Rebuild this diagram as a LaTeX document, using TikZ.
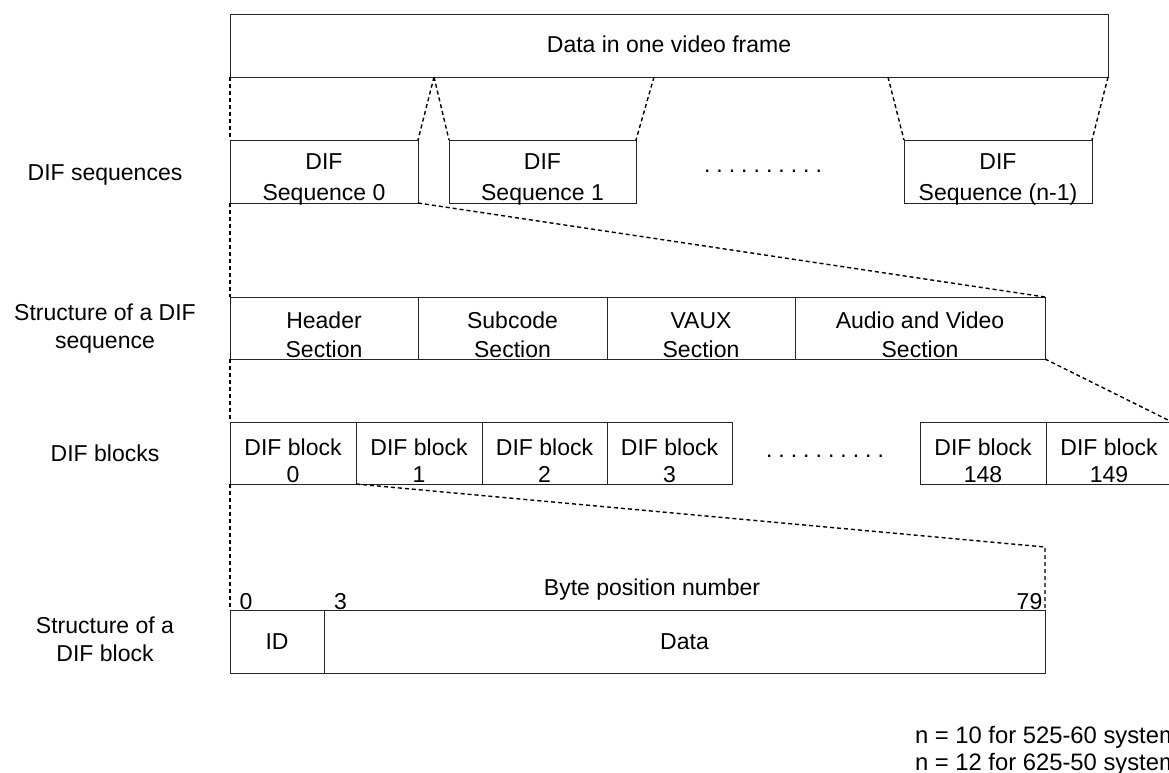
\documentclass[tikz,border=0pt]{standalone}
\usepackage{fontspec}
\setmainfont{Liberation Sans}
\newcommand{\dotrow}{.\kern6pt.\kern6pt.\kern6pt.\kern6pt.\kern6pt.\kern6pt.\kern6pt.\kern6pt.\kern6pt.}
\begin{document}
\begin{tikzpicture}[x=1pt,y=-1pt,
  box/.style={draw=black!85, line width=0.9pt, inner sep=0pt, outer sep=0pt, anchor=north west},
  txt/.style={inner sep=0pt, outer sep=0pt, anchor=base, font=\fontsize{23}{28}\selectfont},
  ltxt/.style={txt, anchor=base west, font=\fontsize{23.8}{28}\selectfont},
  dl/.style={line width=1.4pt, dash pattern=on 4pt off 3pt, black}]
\useasboundingbox (0,0) rectangle (1169,773);
\clip (0,0) rectangle (1169,773);

% ---- boxes ----
\node[box, minimum width=878pt, minimum height=63pt] (top) at (230,14) {};
\node[box, minimum width=188pt, minimum height=63pt] (seq0) at (230,140) {};
\node[box, minimum width=187pt, minimum height=63pt] (seq1) at (449,140) {};
\node[box, minimum width=188pt, minimum height=63pt] (seqn) at (904,140) {};

\node[box, minimum width=188pt, minimum height=62pt] (hdr) at (230,297) {};
\node[box, minimum width=189pt, minimum height=62pt] (sub) at (418,297) {};
\node[box, minimum width=188pt, minimum height=62pt] (vaux) at (607,297) {};
\node[box, minimum width=250pt, minimum height=62pt] (av) at (795,297) {};

\node[box, minimum width=126pt, minimum height=62pt] (b0) at (230,422) {};
\node[box, minimum width=126pt, minimum height=62pt] (b1) at (356,422) {};
\node[box, minimum width=125pt, minimum height=62pt] (b2) at (482,422) {};
\node[box, minimum width=125pt, minimum height=62pt] (b3) at (607,422) {};
\node[box, minimum width=126pt, minimum height=62pt] (b148) at (920,422) {};
\node[box, minimum width=126pt, minimum height=62pt] (b149) at (1046,422) {};

\node[box, minimum width=94pt, minimum height=63pt] (id) at (230,610) {};
\node[box, minimum width=721pt, minimum height=63pt] (data) at (324,610) {};

% ---- box texts ----
\node[txt] (ttop) at (669,53) {Data in one video frame};
\node[txt] (s0a) at (324,169) {DIF};
\node[txt] (s0b) at (324,200) {Sequence 0};
\node[txt] (s1a) at (542.5,169) {DIF};
\node[txt] (s1b) at (542.5,200) {Sequence 1};
\node[txt] (sna) at (998,169) {DIF};
\node[txt] (snb) at (998,200) {Sequence (n-1)};
\node[txt] (sdots) at (763,172) {\dotrow};

\node[txt] (ha) at (324,328) {Header};
\node[txt] (hb) at (324,357) {Section};
\node[txt] (sa) at (512.5,328) {Subcode};
\node[txt] (sb) at (512.5,357) {Section};
\node[txt] (va) at (701,328) {VAUX};
\node[txt] (vb) at (701,357) {Section};
\node[txt] (aa) at (920,328) {Audio and Video};
\node[txt] (ab) at (920,357) {Section};

\node[txt] (b0a) at (293,455) {DIF block};
\node[txt] (b0b) at (293,482) {0};
\node[txt] (b1a) at (419,455) {DIF block};
\node[txt] (b1b) at (419,482) {1};
\node[txt] (b2a) at (544.5,455) {DIF block};
\node[txt] (b2b) at (544.5,482) {2};
\node[txt] (b3a) at (669.5,455) {DIF block};
\node[txt] (b3b) at (669.5,482) {3};
\node[txt] (bdots) at (825,457) {\dotrow};
\node[txt] (b148a) at (983,455) {DIF block};
\node[txt] (b148b) at (983,482) {148};
\node[txt] (b149a) at (1109,455) {DIF block};
\node[txt] (b149b) at (1109,482) {149};

\node[txt] (idt) at (277,649) {ID};
\node[txt] (datat) at (684.5,649) {Data};
\node[txt] (p0) at (246,609) {0};
\node[txt] (p3) at (340.5,609) {3};
\node[txt] (p79) at (1029.5,609) {79};
\node[txt] (bpn) at (652,595) {Byte position number};

% ---- left labels ----
\node[txt] (l1) at (105,180) {DIF sequences};
\node[txt] (l2a) at (105,320) {Structure of a DIF};
\node[txt] (l2b) at (105,348) {sequence};
\node[txt] (l3) at (105,461) {DIF blocks};
\node[txt] (l4a) at (105,633) {Structure of a};
\node[txt] (l4b) at (105,661) {DIF block};

% ---- note ----
\node[ltxt] (n1) at (915,743) {n = 10 for 525-60 system};
\node[ltxt] (n2) at (915,770) {n = 12 for 625-50 system};

% ---- dashed connectors ----
\coordinate (a1) at (434,77);
\coordinate (a2) at (654,77);
\coordinate (a3) at (888,77);
\coordinate (c1) at (1045,547);
\draw[dl] (top.south west) -- (seq0.north west);
\draw[dl] (a1) -- (seq0.north east);
\draw[dl] (a1) -- (seq1.north west);
\draw[dl] (a2) -- (seq1.north east);
\draw[dl] (a3) -- (seqn.north west);
\draw[dl] (top.south east) -- (seqn.north east);
\draw[dl] (seq0.south west) -- (hdr.north west);
\draw[dl] (seq0.south east) -- (av.north east);
\draw[dl] (hdr.south west) -- (b0.north west);
\draw[dl] (av.south east) -- (b149.north east);
\draw[dl] (b0.south west) -- (id.north west);
\draw[dl] (b0.south east) -- (c1) -- (data.north east);
\end{tikzpicture}
\end{document}
